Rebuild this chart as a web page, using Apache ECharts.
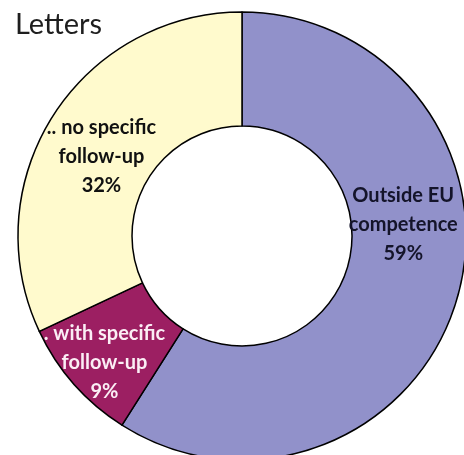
<!DOCTYPE html>
<html>
<head>
<meta charset="utf-8">
<script src="https://cdn.jsdelivr.net/npm/echarts@6/dist/echarts.min.js"></script>
<style>
  html, body { margin: 0; padding: 0; background: #fff; }
  #chart { width: 464px; height: 455px; }
</style>
</head>
<body>
<div id="chart"></div>
<script>
// slice data, clockwise from 12 o'clock
const categories = ['Outside EU\ncompetence', '. with specific\nfollow-up', '.. no specific\nfollow-up'];
const shares = [59, 9, 32];
const sliceColors = ['#9191ca', '#9c1f62', '#fffacd'];
const labelColors = ['#14142a', '#fbeef5', '#111111'];

// nudges so labels sit where the original put them
const labelShift = [[-2, -59], [-10, 14], [3, 12]];

const chart = echarts.init(document.getElementById('chart'));

chart.setOption({
  animation: false,
  title: {
    text: 'Letters',
    left: 10,
    top: 5,
    textStyle: {
      fontFamily: 'Lato',
      fontSize: 29,
      fontWeight: 'normal',
      color: '#1e1e1e'
    }
  },
  series: [
    {
      type: 'pie',
      center: [242, 236],
      radius: [110, 224],
      startAngle: 90,
      clockwise: true,
      itemStyle: {
        borderColor: '#000',
        borderWidth: 1.5
      },
      label: {
        show: true,
        position: 'inside',
        formatter: '{b}\n{c}%',
        fontFamily: 'Lato',
        fontWeight: 'bold',
        fontSize: 20,
        lineHeight: 29,
        align: 'center'
      },
      labelLayout: params => ({
        dx: labelShift[params.dataIndex][0],
        dy: labelShift[params.dataIndex][1]
      }),
      emphasis: { disabled: true },
      data: categories.map((name, i) => ({
        name,
        value: shares[i],
        itemStyle: { color: sliceColors[i] },
        label: { color: labelColors[i] }
      }))
    }
  ]
});
</script>
</body>
</html>
